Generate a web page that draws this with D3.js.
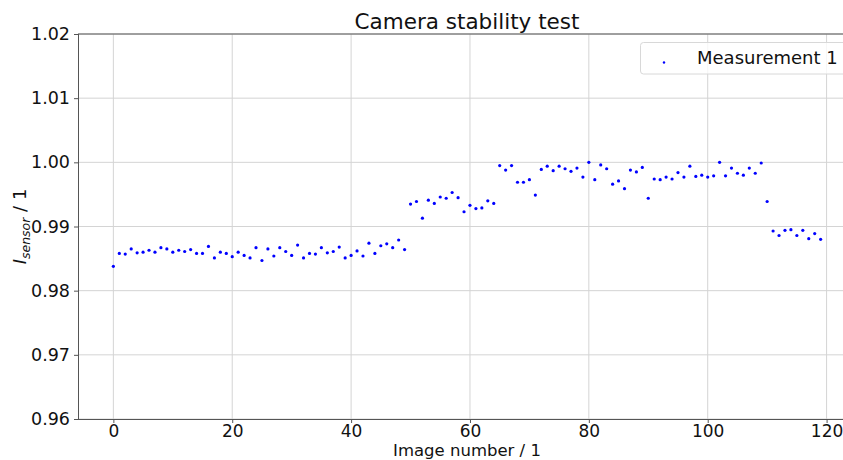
<!DOCTYPE html>
<html>
<head>
<meta charset="utf-8">
<script src="https://cdn.jsdelivr.net/npm/d3@7"></script>
<style>
  html, body { margin: 0; padding: 0; background: #fff; overflow: hidden; }
  text { font-family: "DejaVu Sans", sans-serif; }
</style>
</head>
<body>
<svg id="chart" width="843" height="460"></svg>
<script>
const imageNumbers = d3.range(0, 120);
const measurement1 = [
  0.9838, 0.9858, 0.9857, 0.9865, 0.9859, 0.9860, 0.9863, 0.9860, 0.9867, 0.9865,
  0.9860, 0.9863, 0.9861, 0.9864, 0.9858, 0.9858, 0.9869, 0.9851, 0.9860, 0.9858,
  0.9853, 0.9860, 0.9855, 0.9851, 0.9867, 0.9847, 0.9865, 0.9854, 0.9867, 0.9861,
  0.9855, 0.9871, 0.9851, 0.9858, 0.9857, 0.9867, 0.9859, 0.9861, 0.9868, 0.9851,
  0.9855, 0.9862, 0.9854, 0.9874, 0.9858, 0.9870, 0.9873, 0.9867, 0.9879, 0.9864,
  0.9935, 0.9939, 0.9913, 0.9941, 0.9936, 0.9946, 0.9944, 0.9953, 0.9945, 0.9923,
  0.9933, 0.9928, 0.9929, 0.9940, 0.9936, 0.9995, 0.9988, 0.9995, 0.9969, 0.9969,
  0.9973, 0.9949, 0.9989, 0.9994, 0.9987, 0.9994, 0.9990, 0.9986, 0.9991, 0.9977,
  1.0000, 0.9973, 0.9996, 0.9990, 0.9966, 0.9971, 0.9959, 0.9988, 0.9985, 0.9992,
  0.9944, 0.9974, 0.9973, 0.9977, 0.9974, 0.9984, 0.9977, 0.9994, 0.9978, 0.9980,
  0.9977, 0.9979, 1.0000, 0.9979, 0.9991, 0.9983, 0.9980, 0.9991, 0.9983, 0.9999,
  0.9939, 0.9893, 0.9886, 0.9894, 0.9895, 0.9886, 0.9894, 0.9881, 0.9889, 0.9880
];
const xTicks = [0, 20, 40, 60, 80, 100, 120];
const yTicks = [0.96, 0.97, 0.98, 0.99, 1.00, 1.01, 1.02];
const seriesName = "Measurement 1";
const titleText = "Camera stability test";
const xLabelText = "Image number / 1";

const svg = d3.select("#chart");
const mLeft = 78, mRight = 856, mTop = 34, mBottom = 419;

const x = d3.scaleLinear().domain([-5.95, 124.95]).range([mLeft, mRight]);
const y = d3.scaleLinear().domain([0.96, 1.02]).range([mBottom, mTop]);

// grid
const grid = svg.append("g");
grid.selectAll("line.gx").data(xTicks).enter().append("line")
  .attr("x1", d => x(d)).attr("x2", d => x(d)).attr("y1", mTop).attr("y2", mBottom)
  .attr("stroke", "#d4d4d4").attr("stroke-width", 1);
grid.selectAll("line.gy").data(yTicks).enter().append("line")
  .attr("x1", mLeft).attr("x2", mRight).attr("y1", d => y(d)).attr("y2", d => y(d))
  .attr("stroke", "#d4d4d4").attr("stroke-width", 1);

// axes
const xAxis = d3.axisBottom(x).tickValues(xTicks).tickFormat(d3.format("d")).tickSize(4).tickPadding(1.5);
const yAxis = d3.axisLeft(y).tickValues(yTicks).tickFormat(d3.format(".2f")).tickSize(4).tickPadding(4);

const gx = svg.append("g").attr("transform", `translate(0,${mBottom})`).call(xAxis);
const gy = svg.append("g").attr("transform", `translate(${mLeft},0)`).call(yAxis);
[gx, gy].forEach(g => {
  g.select(".domain").attr("stroke", "#555").attr("stroke-width", 1);
  g.selectAll(".tick line").attr("stroke", "#555").attr("stroke-width", 1);
  g.selectAll(".tick text").attr("fill", "#111").style("font-size", "17.5px").style("font-family", "DejaVu Sans, sans-serif");
});
gx.selectAll(".tick text").style("font-size", "17px");
gx.select(".domain").attr("d", `M${mLeft},0.5H${mRight}`);
gy.select(".domain").attr("d", `M0.5,${mTop}V${mBottom}`);
svg.append("line").attr("x1", mLeft).attr("x2", mRight).attr("y1", mTop).attr("y2", mTop)
  .attr("stroke", "#555").attr("stroke-width", 1);

// points
svg.append("g").selectAll("circle").data(imageNumbers).enter().append("circle")
  .attr("cx", d => x(d)).attr("cy", (d, i) => y(measurement1[i]))
  .attr("r", 1.6).attr("fill", "#0000ff");

// title
svg.append("text").attr("x", (mLeft + mRight) / 2).attr("y", 29)
  .attr("text-anchor", "middle").style("font-size", "21.5px").attr("fill", "#111").text(titleText);

// x label
svg.append("text").attr("x", (mLeft + mRight) / 2).attr("y", 456.2)
  .attr("text-anchor", "middle").style("font-size", "16.5px").attr("fill", "#111").text(xLabelText);

// y label
const yl = svg.append("text").attr("transform", `translate(26,${(mTop + mBottom) / 2}) rotate(-90)`)
  .attr("text-anchor", "middle").style("font-size", "18px").attr("fill", "#111");
yl.append("tspan").style("font-style", "italic").text("I");
yl.append("tspan").style("font-style", "italic").style("font-size", "12.5px").attr("dy", 4).text("sensor");
yl.append("tspan").attr("dy", -4).text(" / 1");

// legend
const lg = svg.append("g");
lg.append("rect").attr("x", 640.5).attr("y", 42.5).attr("width", 230).attr("height", 31.5)
  .attr("rx", 3).attr("fill", "#fff").attr("fill-opacity", 0.8).attr("stroke", "#d8d8d8").attr("stroke-width", 1);
lg.append("circle").attr("cx", 664).attr("cy", 62.5).attr("r", 1.2).attr("fill", "#0000ff");
lg.append("text").attr("x", 697).attr("y", 64).style("font-size", "18px").attr("fill", "#111").text(seriesName);
</script>
</body>
</html>
